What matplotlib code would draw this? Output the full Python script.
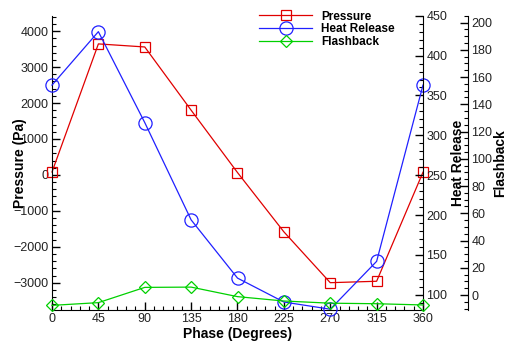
import matplotlib
matplotlib.use('Agg')
import matplotlib.pyplot as plt
from matplotlib.ticker import MultipleLocator

plt.rcParams['font.family'] = ['Liberation Sans', 'DejaVu Sans']

# 相位角及各测量量
phase = [0, 45, 90, 135, 180, 225, 270, 315, 360]
pressure = [80, 3645, 3560, 1800, 65, -1585, -3000, -2960, 75]
heat_release = [363, 430, 316, 194, 121, 91, 82, 142, 363]
flashback = [-7.6, -5.6, 5.6, 5.8, -1.2, -4.4, -6.0, -6.4, -7.3]

fig = plt.figure(figsize=(5.07, 3.45), dpi=100)
ax = fig.add_axes([52/507, 1-310/345, (423-52)/507, (310-15.7)/345])
ax2 = ax.twinx()
ax3 = ax.twinx()

red, blue, green = '#e00000', '#2020ff', '#00d000'

l1, = ax.plot(phase, pressure, color=red, lw=0.9, marker='s', ms=6.5,
              mfc='none', mec=red, mew=0.9, label='Pressure')
l2, = ax2.plot(phase, heat_release, color=blue, lw=0.9, marker='o', ms=9.5,
               mfc='none', mec=blue, mew=0.9, label='Heat Release')
l3, = ax3.plot(phase, flashback, color=green, lw=0.9, marker='D', ms=6.3,
               mfc='none', mec=green, mew=0.9, label='Flashback')
for a in (ax, ax2, ax3):
    for ln in a.lines:
        ln.set_clip_on(False)

ax.set_xlim(0, 360)
ax.set_ylim(-3760, 4430)
ax2.set_ylim(81, 450)
ax3.set_ylim(-11, 205)

ax.xaxis.set_major_locator(MultipleLocator(45))
ax.xaxis.set_minor_locator(MultipleLocator(9))
ax.yaxis.set_major_locator(MultipleLocator(1000))
ax.yaxis.set_minor_locator(MultipleLocator(200))
ax2.yaxis.set_major_locator(MultipleLocator(50))
ax2.yaxis.set_minor_locator(MultipleLocator(10))
ax3.yaxis.set_major_locator(MultipleLocator(20))
ax3.yaxis.set_minor_locator(MultipleLocator(5))

for a in (ax, ax2, ax3):
    a.spines['top'].set_visible(False)
ax2.spines['left'].set_visible(False)
ax3.spines['left'].set_visible(False)
ax.spines['right'].set_visible(False)
ax3.spines['right'].set_position(('axes', (468-52)/(423-52)))
ax3.spines['bottom'].set_visible(False)
ax2.spines['bottom'].set_visible(False)

for a in (ax, ax2, ax3):
    a.tick_params(which='major', direction='in', length=6, width=1, pad=2.5,
                  labelsize=9, colors='black', labelcolor='#222222')
    a.tick_params(which='minor', direction='in', length=3, width=0.8)

ax.set_xlabel('Phase (Degrees)', fontsize=10, fontweight='bold', labelpad=1)
ax.set_ylabel('Pressure (Pa)', fontsize=10, fontweight='bold', labelpad=-10)
ax2.set_ylabel('Heat Release', fontsize=10, fontweight='bold', labelpad=2.2)
ax3.set_ylabel('Flashback', fontsize=10, fontweight='bold', labelpad=0.6)

fig.legend(handles=[l1, l2, l3], loc='upper left',
           bbox_to_anchor=(252/507, 0.99), frameon=False,
           prop={'weight': 'bold', 'size': 8.5}, handlelength=4.5,
           labelspacing=0.05, borderaxespad=0.2, handletextpad=0.75)

fig.savefig('out.png', dpi=100)
